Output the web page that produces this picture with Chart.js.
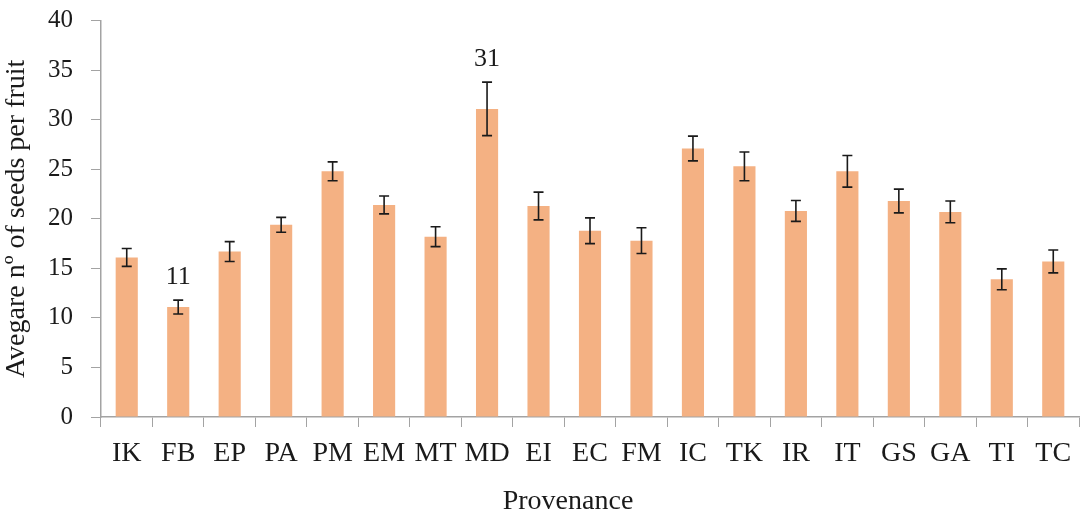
<!DOCTYPE html>
<html>
<head>
<meta charset="utf-8">
<script src="https://cdn.jsdelivr.net/npm/chart.js@4"></script>
<style>
html,body{margin:0;padding:0;background:#fff;}
#wrap{width:1086px;height:515px;position:relative;}
</style>
</head>
<body>
<div id="wrap"><canvas id="c" width="1086" height="515"></canvas></div>
<script>
const categories = ['IK','FB','EP','PA','PM','EM','MT','MD','EI','EC','FM','IC','TK','IR','IT','GS','GA','TI','TC'];
const seedMeans  = [16.1, 11.1, 16.7, 19.4, 24.8, 21.4, 18.2, 31.1, 21.3, 18.8, 17.8, 27.1, 25.3, 20.8, 24.8, 21.8, 20.7, 13.9, 15.7];
const seedErrors = [0.9, 0.7, 1.0, 0.75, 0.95, 0.9, 1.0, 2.7, 1.4, 1.3, 1.3, 1.25, 1.45, 1.05, 1.6, 1.2, 1.1, 1.05, 1.15];
const labelledBars = {FB: '11', MD: '31'};
const yTicks = [0,5,10,15,20,25,30,35,40];
const xAxisTitle = 'Provenance';
const yAxisTitle = 'Avegare nº of seeds per fruit';

const FONT = "'Liberation Serif', 'DejaVu Serif', serif";
const AXIS = '#a3a3a3';
const INK = '#1a1a1a';
const labelGap = {FB: 16, MD: 16};

const errorBarPlugin = {
  id: 'errorBars',
  afterDatasetsDraw(chart) {
    const ctx = chart.ctx;
    const meta = chart.getDatasetMeta(0);
    const y = chart.scales.y;
    ctx.save();
    ctx.strokeStyle = INK;
    ctx.lineWidth = 1.6;
    meta.data.forEach((bar, i) => {
      const x = bar.x;
      const top = y.getPixelForValue(seedMeans[i] + seedErrors[i]);
      const bot = y.getPixelForValue(seedMeans[i] - seedErrors[i]);
      ctx.beginPath();
      ctx.moveTo(x, top); ctx.lineTo(x, bot);
      ctx.moveTo(x - 5, top); ctx.lineTo(x + 5, top);
      ctx.moveTo(x - 5, bot); ctx.lineTo(x + 5, bot);
      ctx.stroke();
      const lbl = labelledBars[categories[i]];
      if (lbl) {
        ctx.fillStyle = INK;
        ctx.font = '26px ' + FONT;
        ctx.textAlign = 'center';
        ctx.textBaseline = 'alphabetic';
        ctx.fillText(lbl, x, top - (labelGap[categories[i]] || 14));
      }
    });
    ctx.fillStyle = INK;
    ctx.font = '28px ' + FONT;
    ctx.textAlign = 'center';
    ctx.textBaseline = 'middle';
    ctx.fillText(xAxisTitle, 568, 502);
    ctx.restore();
  }
};

new Chart(document.getElementById('c'), {
  type: 'bar',
  data: {
    labels: categories,
    datasets: [{
      data: seedMeans,
      backgroundColor: '#F4B183',
      borderWidth: 0,
      barPercentage: 0.43,
      categoryPercentage: 1.0
    }]
  },
  options: {
    responsive: false,
    animation: false,
    layout: { padding: { top: 20.7, right: 7, left: 0, bottom: 0 } },
    plugins: { legend: { display: false }, tooltip: { enabled: false } },
    scales: {
      x: {
        grid: { display: true, drawOnChartArea: false, drawTicks: true, tickLength: 10, color: AXIS, offset: true },
        border: { display: true, color: AXIS, width: 1.5 },
        ticks: { color: INK, font: { family: FONT, size: 28 }, padding: 10, maxRotation: 0, autoSkip: false },
        title: { display: false, text: xAxisTitle },
        afterFit(scale) { scale.height = 98; scale.paddingLeft = 0; scale.paddingRight = 0; }
      },
      y: {
        min: 0, max: 40,
        afterBuildTicks(scale) { scale.ticks = yTicks.map(v => ({ value: v })); },
        grid: { display: true, drawOnChartArea: false, drawTicks: true, tickLength: 10, color: AXIS },
        border: { display: true, color: AXIS, width: 1.5 },
        ticks: { color: INK, font: { family: FONT, size: 25 }, padding: 18 },
        title: { display: true, text: yAxisTitle, color: INK, font: { family: FONT, size: 28 }, padding: { top: 0, bottom: 0 } },
        afterFit(scale) { scale.width = 101; scale.paddingTop = 0; scale.paddingBottom = 0; }
      }
    }
  },
  plugins: [errorBarPlugin]
});
</script>
</body>
</html>
